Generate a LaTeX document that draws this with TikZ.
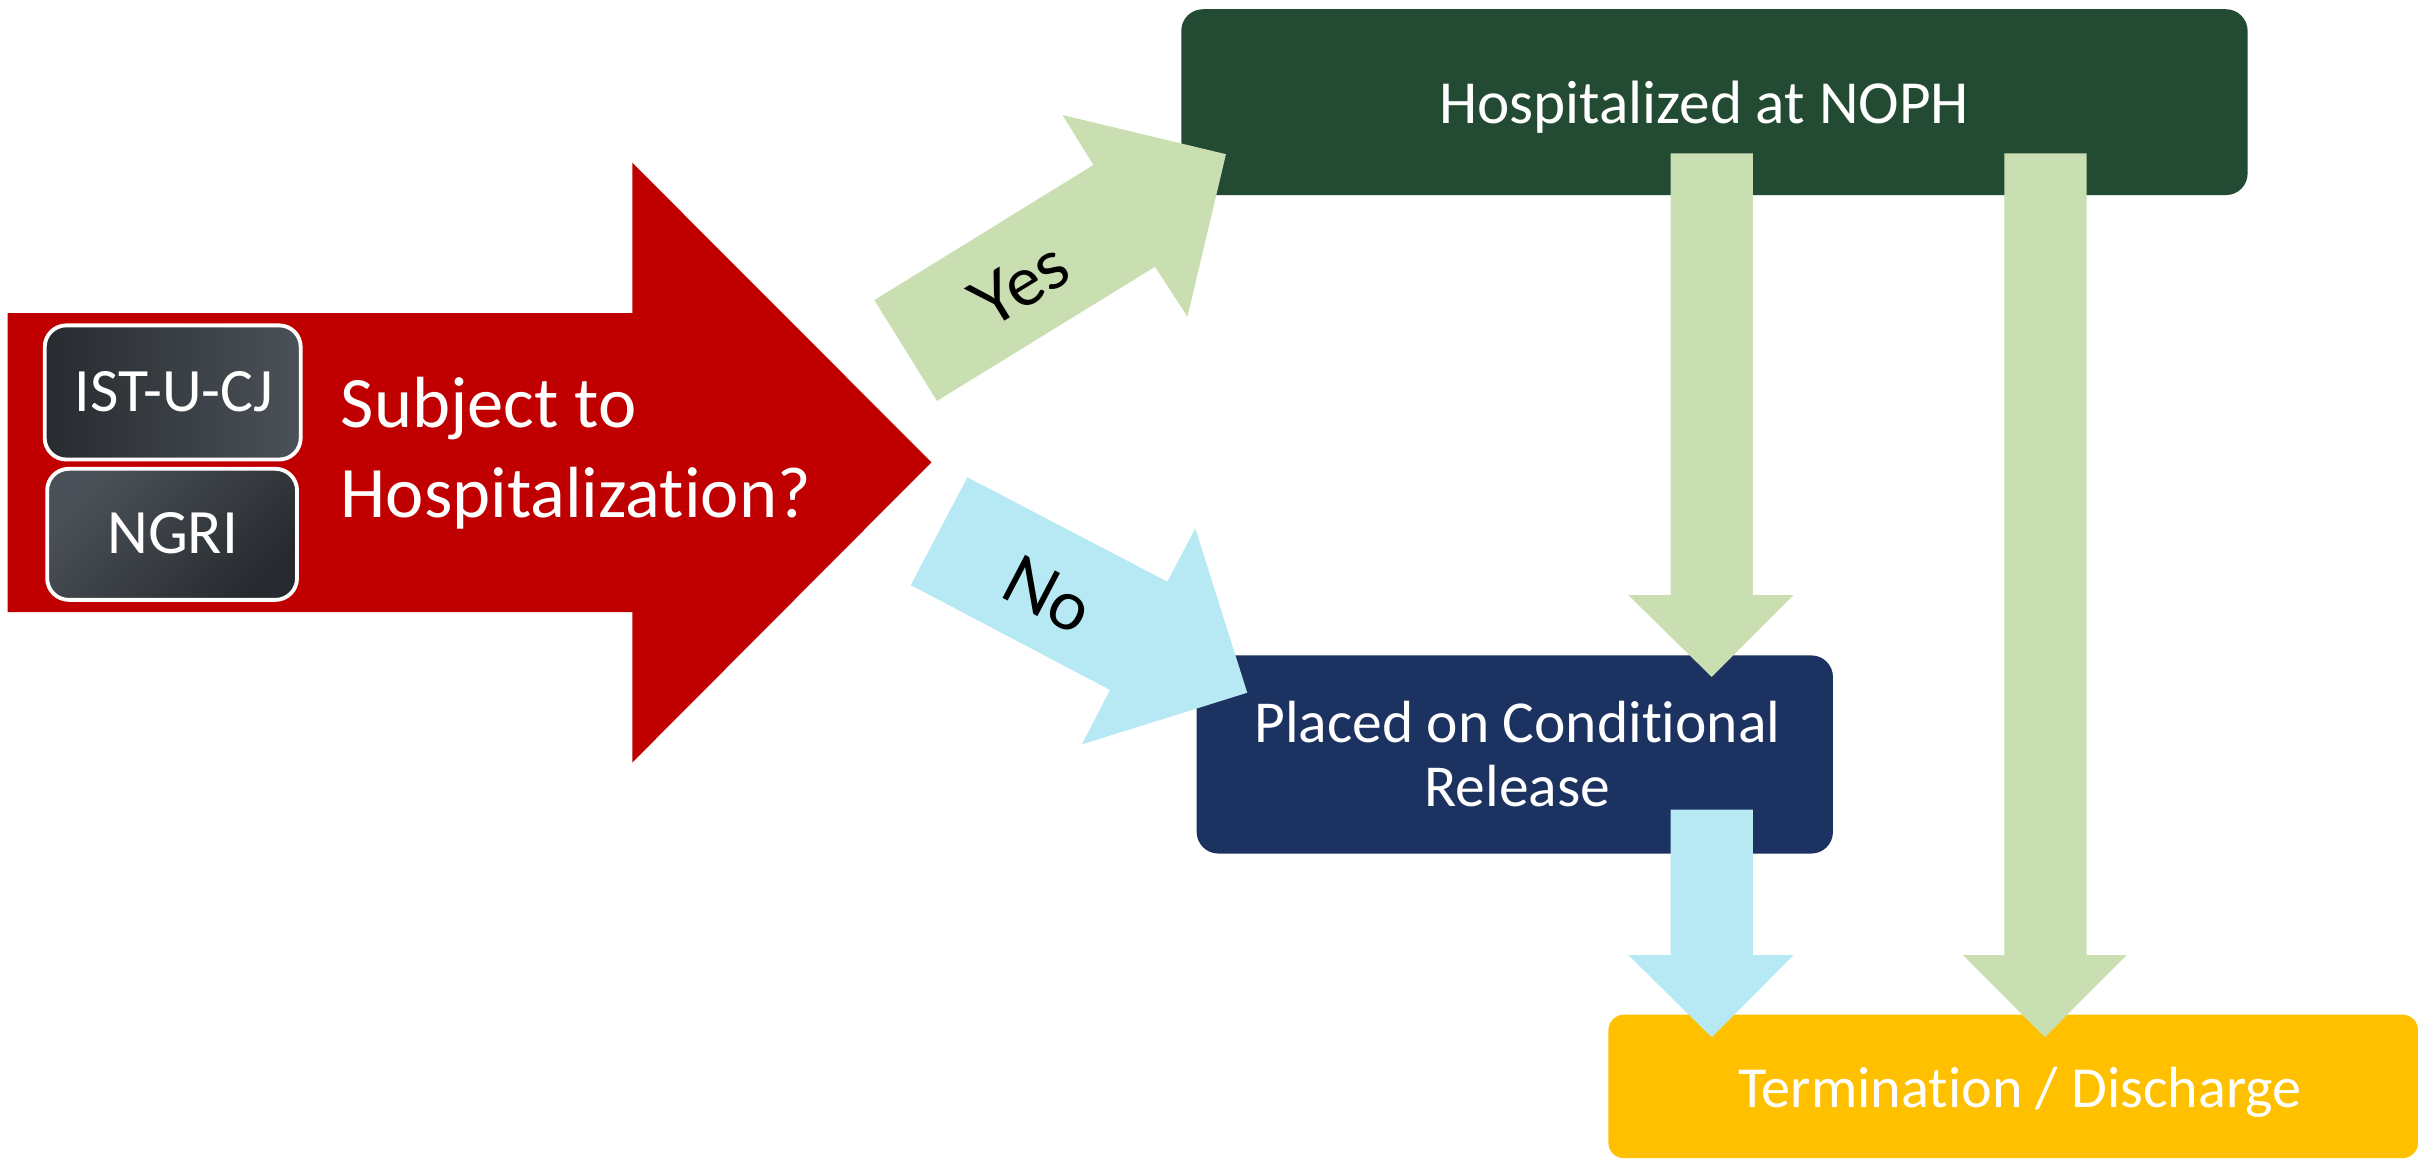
\documentclass[tikz,border=0pt]{standalone}
\usepackage{fontspec}
\setmainfont{Carlito}[Ligatures=NoCommon]
\newfontfamily\labelfont{Lato}
\definecolor{arrowred}{HTML}{C00000}
\definecolor{lightgreen}{HTML}{C9DFB1}
\definecolor{lightblue}{HTML}{B7E9F5}
\definecolor{hospgreen}{HTML}{234B33}
\definecolor{navy}{HTML}{1C3260}
\definecolor{gold}{HTML}{FFC000}
\definecolor{istdark}{HTML}{272B2F}
\definecolor{istlight}{HTML}{4B5158}
\tikzset{
  box/.style={rectangle, rounded corners=14pt, inner sep=0pt},
  smallbox/.style={rectangle, rounded corners=14pt, draw=white, line width=2.5pt, inner sep=0pt},
  whitetext/.style={text=white, inner sep=0pt, anchor=base},
  choicetext/.style={text=black, inner sep=0pt, font=\labelfont\fontsize{44}{50}\selectfont},
}
\begin{document}
\begin{tikzpicture}[x=1pt,y=-1pt]
\useasboundingbox (0,0) rectangle (1568,751);

% boxes
\node[box, fill=hospgreen, minimum width=691.5pt, minimum height=120.5pt] (hosp) at (1111.75,66.25) {};
\node[box, fill=navy, minimum width=412.6pt, minimum height=128.5pt] (placed) at (982.3,489.25) {};
\node[box, fill=gold, rounded corners=10pt, minimum width=525pt, minimum height=93pt] (term) at (1305.5,704.5) {};

% red decision arrow
\fill[arrowred] (5,203) -- (410,203) -- (410,105.5) -- (604,299.8) -- (410,494.5) -- (410,397) -- (5,397) -- cycle;

\node[smallbox, left color=istdark, right color=istlight, minimum width=166pt, minimum height=87pt] (ist) at (112,254.5) {};
\node[smallbox, shading=axis, top color=istlight, bottom color=istdark, shading angle=45, minimum width=162pt, minimum height=85pt] (ngri) at (111.6,346.5) {};

% texts (multi-line nodes are anchored at the baseline of their last line)
\node[whitetext, font=\fontsize{40}{44}\selectfont] (isttext) at (113,266.6) {IST-U-CJ};
\node[whitetext, font=\fontsize{41}{44}\selectfont] (ngritext) at (112,358.7) {NGRI};
\node[whitetext, anchor=base west, align=left, font=\fontsize{47}{58.7}\selectfont] (question) at (220.8,335.7) {Subject to\\Hospitalization?};
\node[whitetext, font=\fontsize{39.7}{44}\selectfont] (hosptext) at (1105,80.4) {Hospitalized at NOPH};
\node[whitetext, align=center, font=\fontsize{38.6}{41.2}\selectfont] (placedtext) at (984,523) {Placed on Conditional\\Release};
\node[whitetext, font=\fontsize{37.7}{44}\selectfont] (termtext) at (1310,718) {Termination / Discharge};

% Yes arrow
\fill[lightgreen] (567,194.6) -- (709,107) -- (689,74.6) -- (795,100) -- (770,205.4) -- (749,173) -- (607.6,260) -- cycle;
\node[choicetext, rotate=31.5] (yes) at (661.2,184) {Yes};

% No arrow
\fill[lightblue] (627.3,309.5) -- (757,377.2) -- (775.1,342.6) -- (808.8,449.2) -- (701.6,482.7) -- (719.8,447.4) -- (590.6,379.4) -- cycle;
\node[choicetext, rotate=-27.6] (no) at (680,385.6) {No};

% vertical arrows
\fill[lightgreen] (1083.4,99.4) -- (1136.7,99.4) -- (1136.7,386) -- (1163,386) -- (1110,439) -- (1056,386) -- (1083.4,386) -- cycle;
\fill[lightgreen] (1299.8,99.4) -- (1353.1,99.4) -- (1353.1,619.4) -- (1379,619.4) -- (1326,672.6) -- (1273,619.4) -- (1299.8,619.4) -- cycle;
\fill[lightblue] (1083.4,525) -- (1136.7,525) -- (1136.7,619.4) -- (1163,619.4) -- (1110,672.6) -- (1056,619.4) -- (1083.4,619.4) -- cycle;
\end{tikzpicture}
\end{document}
